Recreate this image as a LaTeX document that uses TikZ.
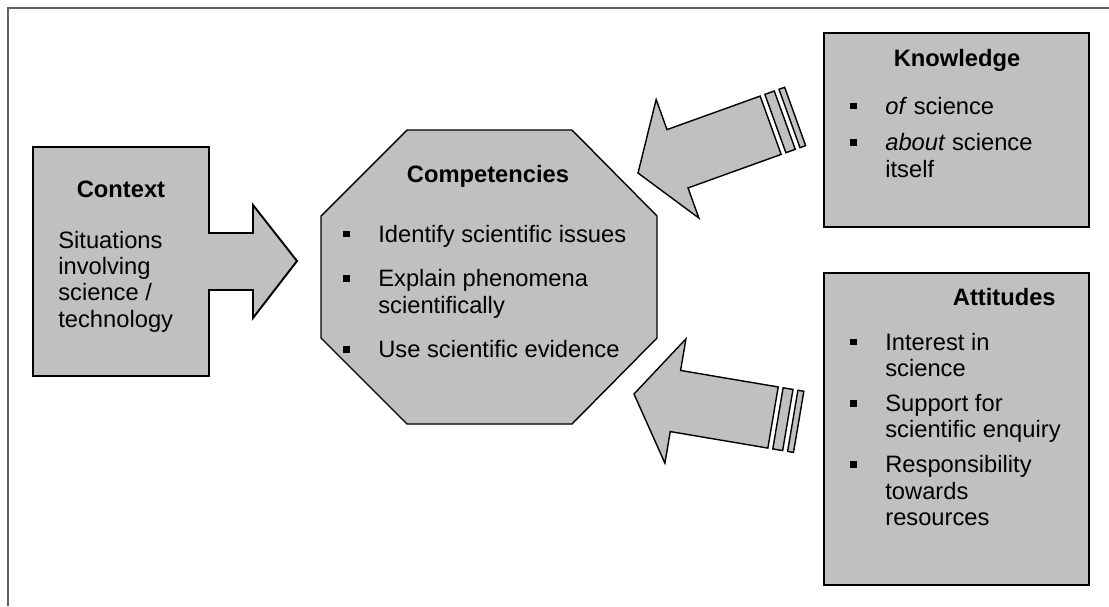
\documentclass[tikz,border=0pt]{standalone}
\usepackage{fontspec}
\setmainfont{Liberation Sans}
\usepackage{tikz}

\definecolor{boxgray}{RGB}{192,192,192}
\definecolor{framegray}{RGB}{96,96,96}
\newcommand{\blt}{\makebox[0.7cm][l]{\rule[0.1cm]{0.13cm}{0.13cm}}}

\tikzset{
  boxline/.style={draw=black, line width=1.1pt, fill=boxgray, line join=miter},
  arrowline/.style={draw=black, line width=0.8pt, fill=boxgray, line join=miter},
  lbl/.style={font=\fontsize{13.5}{15}\selectfont, inner sep=0pt},
  ttl/.style={font=\fontsize{13.5}{15}\selectfont\bfseries, inner sep=0pt},
  stripedarrow/.pic={
    \draw[arrowline](0,0)--(-42,63)--(-42,31)--(-141,31)--(-141,-31)--(-42,-31)--(-42,-63)--cycle;
    \draw[arrowline](-146,31)rectangle(-156,-31);
    \draw[arrowline](-161,31)rectangle(-167,-31);
  }
}

\begin{document}
\begin{tikzpicture}[x=0.02cm,y=-0.02cm]
\useasboundingbox(0,0)rectangle(1109,606);
\draw[framegray,line width=1.1pt](8,606)--(8,8)--(1109,8);

\draw[boxline](33,147)--(209,147)--(209,233)--(253,233)--(253,205)--(297,261)--(253,318)--(253,290)--(209,290)--(209,376)--(33,376)--cycle;
\node[ttl,anchor=base] (ctxtitle) at (121,197) {Context};
\node[lbl,anchor=base west] (ctxtext) at (58,248) {\begin{tabular}[t]{@{}l@{}}Situations\\involving\\science /\\technology\end{tabular}};

\draw[arrowline](407,130)--(572,130)--(657,216)--(657,338)--(572,424)--(407,424)--(321,338)--(321,216)--cycle;
\node[ttl,anchor=base] (comptitle) at (488,182) {Competencies};
\node[lbl,anchor=base west] (complist) at (343,242) {\begin{tabular}[t]{@{}l@{}l@{}}
\blt&Identify scientific issues\\[10.5pt]
\blt&Explain phenomena\\
&scientifically\\[10.5pt]
\blt&Use scientific evidence
\end{tabular}};

\draw[boxline](824,33)rectangle(1089,227);
\node[ttl,anchor=base] (knowtitle) at (957,66) {Knowledge};
\node[lbl,anchor=base west] (knowlist) at (850,114) {\begin{tabular}[t]{@{}l@{}l@{}}
\blt&\textit{of} science\\[6pt]
\blt&\textit{about} science\\
&itself
\end{tabular}};

\draw[boxline](824,273)rectangle(1089,585);
\node[ttl,anchor=base east] (atttitle) at (1056,305) {Attitudes};
\node[lbl,anchor=base west] (attlist) at (850,350) {\begin{tabular}[t]{@{}l@{}l@{}}
\blt&Interest in\\
&science\\[5pt]
\blt&Support for\\
&scientific enquiry\\[5pt]
\blt&Responsibility\\
&towards\\
&resources
\end{tabular}};

\pic[rotate=199.8] at (638,173) {stripedarrow};
\pic[rotate=170.4] at (634,394) {stripedarrow};
\end{tikzpicture}
\end{document}
